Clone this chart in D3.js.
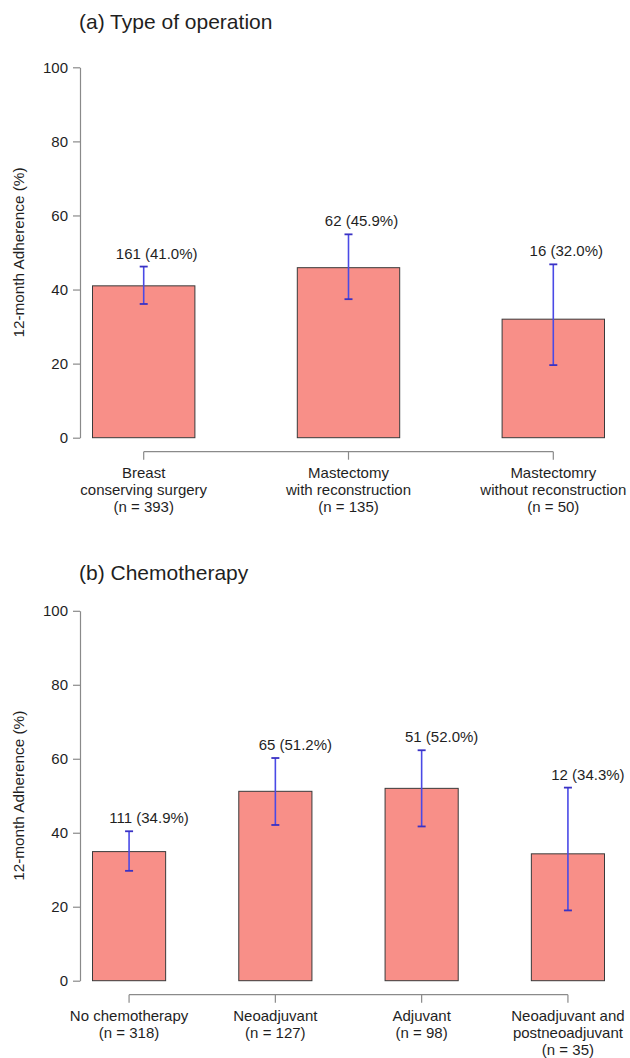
<!DOCTYPE html>
<html>
<head>
<meta charset="utf-8">
<script src="https://cdn.jsdelivr.net/npm/d3@7/dist/d3.min.js"></script>
<style>
  html, body { margin: 0; padding: 0; background: #ffffff; }
  svg { display: block; font-family: "Liberation Sans", Arial, Helvetica, sans-serif; }
</style>
</head>
<body>
<svg id="chart" width="630" height="1058"></svg>
<script>
// ---------- data ----------
const yTicks = [0, 20, 40, 60, 80, 100];
const yLabel = "12-month Adherence (%)";

const opTitle = "(a) Type of operation";
const opCategories = [
  "Breast\nconserving surgery\n(n = 393)",
  "Mastectomy\nwith reconstruction\n(n = 135)",
  "Mastectomry\nwithout reconstruction\n(n = 50)"
];
const opCounts = [161, 62, 16];
const opValues = [41.0, 45.9, 32.0];
const opLower = [36.1, 37.4, 19.6];
const opUpper = [46.2, 54.9, 46.8];

const chemoTitle = "(b) Chemotherapy";
const chemoCategories = [
  "No chemotherapy\n(n = 318)",
  "Neoadjuvant\n(n = 127)",
  "Adjuvant\n(n = 98)",
  "Neoadjuvant and\npostneoadjuvant\n(n = 35)"
];
const chemoCounts = [111, 65, 51, 12];
const chemoValues = [34.9, 51.2, 52.0, 34.3];
const chemoLower = [29.7, 42.1, 41.7, 19.0];
const chemoUpper = [40.4, 60.2, 62.3, 52.2];

// ---------- drawing ----------
const svg = d3.select("#chart");
const textColor = "#1f1f1f";
const axisColor = "#8a8a8a";
const barFill = "#f88f88";
const barStroke = "#3a3a3a";
const errColor = "#4a4ae6";
const capColor = "#3a32c4";

function drawPanel(opts) {
  const { title, categories, counts, values, lower, upper,
          yTop, yBottom, titleY, labelDx } = opts;
  const g = svg.append("g");

  const x = d3.scaleBand()
    .domain(categories)
    .range([92.5, 604.5])
    .paddingInner(0.5)
    .paddingOuter(0);

  const y = d3.scaleLinear().domain([0, 100]).range([yBottom, yTop]);

  // title
  g.append("text")
    .attr("x", 79)
    .attr("y", titleY)
    .attr("font-size", 21)
    .attr("fill", textColor)
    .text(title);

  // y axis
  const yAxis = g.append("g")
    .attr("transform", "translate(80,0)")
    .call(d3.axisLeft(y).tickValues(yTicks).tickSize(7).tickSizeOuter(0).tickPadding(5));
  yAxis.select(".domain").attr("stroke", axisColor).attr("stroke-width", 1.2);
  yAxis.selectAll(".tick line").attr("stroke", axisColor).attr("stroke-width", 1.2);
  yAxis.selectAll(".tick text")
    .attr("font-size", 15)
    .attr("fill", textColor)
    .attr("font-family", "Liberation Sans, Arial, sans-serif");

  // y label
  g.append("text")
    .attr("transform", `translate(24,${(yTop + yBottom) / 2}) rotate(-90)`)
    .attr("text-anchor", "middle")
    .attr("font-size", 15.3)
    .attr("fill", textColor)
    .text(yLabel);

  // bars
  g.selectAll("rect.bar")
    .data(categories)
    .enter().append("rect")
    .attr("class", "bar")
    .attr("x", d => x(d))
    .attr("width", x.bandwidth())
    .attr("y", (d, i) => y(values[i]))
    .attr("height", (d, i) => y(0) - y(values[i]))
    .attr("fill", barFill)
    .attr("stroke", barStroke)
    .attr("stroke-width", 1);

  // x axis
  const axisY = yBottom + 14;
  const xAxis = g.append("g")
    .attr("transform", `translate(0,${axisY})`)
    .call(d3.axisBottom(x).tickSize(8).tickSizeOuter(0));
  xAxis.select(".domain").remove();
  const cx = d => x(d) + x.bandwidth() / 2;
  xAxis.append("line")
    .attr("x1", cx(categories[0]))
    .attr("x2", cx(categories[categories.length - 1]))
    .attr("y1", 0).attr("y2", 0)
    .attr("stroke", axisColor)
    .attr("stroke-width", 1.2);
  xAxis.selectAll(".tick line").attr("stroke", axisColor).attr("stroke-width", 1.2);
  xAxis.selectAll(".tick text").each(function(d) {
    const t = d3.select(this);
    t.text(null)
      .attr("y", 26)
      .attr("dy", null)
      .attr("font-size", 15)
      .attr("fill", textColor)
      .attr("font-family", "Liberation Sans, Arial, sans-serif");
    d.split("\n").forEach((line, k) => {
      t.append("tspan").attr("x", 0).attr("dy", k === 0 ? 0 : 17).text(line);
    });
  });

  // error bars
  const eb = g.selectAll("g.err")
    .data(categories)
    .enter().append("g")
    .attr("class", "err");
  eb.append("line")
    .attr("x1", d => cx(d)).attr("x2", d => cx(d))
    .attr("y1", (d, i) => y(lower[i]))
    .attr("y2", (d, i) => y(upper[i]))
    .attr("stroke", errColor)
    .attr("stroke-width", 1.6);
  [lower, upper].forEach(arr => {
    eb.append("line")
      .attr("x1", d => cx(d) - 4).attr("x2", d => cx(d) + 4)
      .attr("y1", (d, i) => y(arr[i]))
      .attr("y2", (d, i) => y(arr[i]))
      .attr("stroke", capColor)
      .attr("stroke-width", 1.8);
  });

  // value labels
  g.selectAll("text.val")
    .data(categories)
    .enter().append("text")
    .attr("class", "val")
    .attr("x", d => cx(d) + labelDx)
    .attr("y", (d, i) => y(upper[i]) - 8)
    .attr("text-anchor", "middle")
    .attr("font-size", 15)
    .attr("fill", textColor)
    .text((d, i) => `${counts[i]} (${values[i].toFixed(1)}%)`);
}

drawPanel({
  title: opTitle, categories: opCategories, counts: opCounts,
  values: opValues, lower: opLower, upper: opUpper,
  yTop: 67.3, yBottom: 437.7, titleY: 28.5, labelDx: 13
});

drawPanel({
  title: chemoTitle, categories: chemoCategories, counts: chemoCounts,
  values: chemoValues, lower: chemoLower, upper: chemoUpper,
  yTop: 610.8, yBottom: 980.7, titleY: 579.5, labelDx: 20
});
</script>
</body>
</html>
